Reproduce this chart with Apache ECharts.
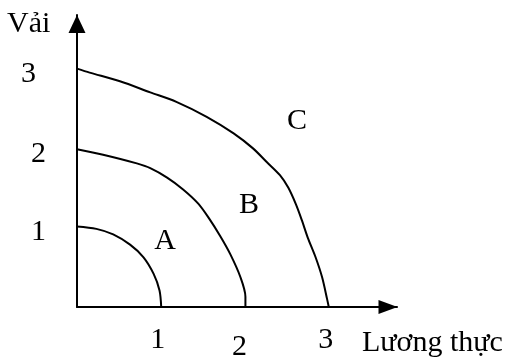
<!DOCTYPE html>
<html>
<head>
<meta charset="utf-8">
<script src="https://cdn.jsdelivr.net/npm/echarts@6/dist/echarts.min.js"></script>
<style>html,body{margin:0;padding:0;background:#fff}#c{width:512px;height:362px}</style>
</head>
<body>
<div id="c"></div>
<script>
// Tick labels
var xTicks = [1, 2, 3];
var yTicks = [1, 2, 3];
var xName = 'Lương thực';
var yName = 'Vải';
// Curve labels
var curveNames = ['A', 'B', 'C'];
// Curve A (food, cloth)
var aX = [0, 0.23, 0.43, 0.63, 0.79, 0.91, 0.98, 1.0];
var aY = [1.02, 0.99, 0.92, 0.79, 0.63, 0.42, 0.21, 0];
// Curve B
var bX = [0, 0.31, 0.71, 0.87, 1.07, 1.26, 1.44, 1.57, 1.70, 1.82, 1.94, 2.0, 2.0];
var bY = [2.0, 1.93, 1.82, 1.76, 1.64, 1.49, 1.31, 1.12, 0.90, 0.67, 0.38, 0.13, 0];
// Curve C
var cX = [0, 0.15, 0.51, 0.87, 1.18, 1.54, 1.86, 2.09, 2.25, 2.41, 2.51, 2.60, 2.67, 2.74, 2.83, 2.91, 2.97, 2.99];
var cY = [3.02, 2.97, 2.86, 2.72, 2.60, 2.41, 2.20, 2.01, 1.84, 1.67, 1.51, 1.30, 1.10, 0.88, 0.64, 0.38, 0.10, 0];

function zip(xs, ys) { return xs.map(function (x, i) { return [x, ys[i]]; }); }

var FONT = 'Liberation Serif';
var chart = echarts.init(document.getElementById('c'));
var lineStyle = { color: '#000', width: 2 };
function curve(name, xs, ys) {
  return { name: name, type: 'line', data: zip(xs, ys), showSymbol: false, smooth: 0.3,
           lineStyle: lineStyle, silent: true, animation: false };
}
chart.setOption({
  animation: false,
  grid: { left: 77, top: 15, right: 115, bottom: 52 },
  xAxis: {
    type: 'value', min: 0, max: 3.8, interval: 1,
    splitLine: { show: false }, axisTick: { show: false },
    axisLine: { lineStyle: { color: '#000', width: 2 }, symbol: ['none', 'triangle'], symbolSize: [14, 19], symbolOffset: [0, -9] },
    axisLabel: {
      margin: 18, color: '#000', fontFamily: FONT, fontSize: 30,
      formatter: function (v) {
        if (xTicks.indexOf(v) < 0) return '';
        return '{t' + v + '|' + v + '}';
      },
      rich: {
        t1: { fontFamily: FONT, fontSize: 30, color: '#000', padding: [0, 7, 0, 0] },
        t2: { fontFamily: FONT, fontSize: 30, color: '#000', padding: [7, 12, 0, 0] },
        t3: { fontFamily: FONT, fontSize: 30, color: '#000', padding: [0, 8, 0, 0] }
      }
    }
  },
  yAxis: {
    type: 'value', min: 0, max: 3.7, interval: 1,
    splitLine: { show: false }, axisTick: { show: false },
    axisLine: { lineStyle: { color: '#000', width: 2 }, symbol: ['none', 'triangle'], symbolSize: [17, 18], symbolOffset: [0, -9] },
    axisLabel: {
      margin: 31, color: '#000', fontFamily: FONT, fontSize: 30,
      formatter: function (v) {
        if (yTicks.indexOf(v) < 0) return '';
        return '{y' + v + '|' + v + '}';
      },
      rich: {
        y1: { fontFamily: FONT, fontSize: 30, color: '#000', padding: [8, 0, 0, 0] },
        y2: { fontFamily: FONT, fontSize: 30, color: '#000', padding: [9, 0, 0, 0] },
        y3: { fontFamily: FONT, fontSize: 30, color: '#000', padding: [8, 10, 0, 0] }
      }
    }
  },
  graphic: [
    { type: 'text', left: 7, top: 9, style: { text: yName, font: '30px "Liberation Serif"', fill: '#000' } },
    { type: 'text', left: 362, top: 328, style: { text: xName, font: '30px "Liberation Serif"', fill: '#000' } },
    { type: 'text', x: 165, y: 241, style: { text: curveNames[0], font: '30px "Liberation Serif"', fill: '#000', align: 'center', verticalAlign: 'middle' } },
    { type: 'text', x: 249, y: 205, style: { text: curveNames[1], font: '30px "Liberation Serif"', fill: '#000', align: 'center', verticalAlign: 'middle' } },
    { type: 'text', x: 297, y: 121, style: { text: curveNames[2], font: '30px "Liberation Serif"', fill: '#000', align: 'center', verticalAlign: 'middle' } }
  ],
  series: [
    curve(curveNames[0], aX, aY),
    curve(curveNames[1], bX, bY),
    curve(curveNames[2], cX, cY)
  ]
});
</script>
</body>
</html>
